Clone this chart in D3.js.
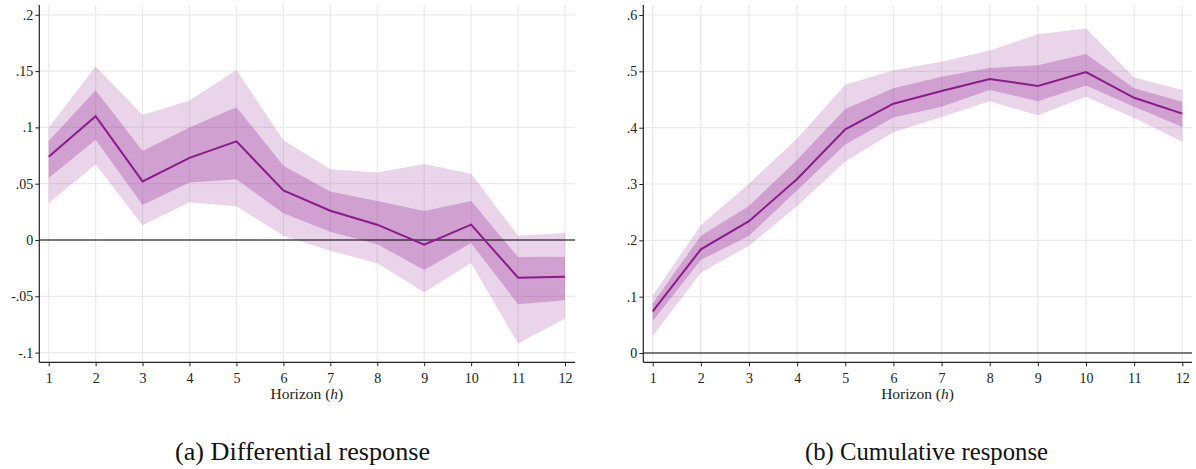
<!DOCTYPE html>
<html><head><meta charset="utf-8">
<script src="https://cdn.jsdelivr.net/npm/d3@7"></script>
<style>
body{margin:0;background:#fff;}
svg{display:block;}
</style></head>
<body>
<svg id="c" width="1196" height="469"></svg>
<script>
const horizons = [1,2,3,4,5,6,7,8,9,10,11,12];
// (a) Differential response
const diffEst   = [0.074,0.110,0.052,0.073,0.0876,0.044,0.026,0.0136,-0.0041,0.0136,-0.0335,-0.0326];
const diffInLo  = [0.055,0.089,0.031,0.051,0.054,0.0237,0.0074,-0.0038,-0.0266,-0.0027,-0.0571,-0.0536];
const diffInHi  = [0.088,0.133,0.079,0.100,0.118,0.066,0.043,0.0346,0.0258,0.0346,-0.0151,-0.0148];
const diffOutLo = [0.0326,0.067,0.013,0.0335,0.030,0.0038,-0.0095,-0.0207,-0.0465,-0.0204,-0.092,-0.070];
const diffOutHi = [0.0997,0.154,0.111,0.124,0.151,0.0885,0.0628,0.060,0.0675,0.0589,0.0038,0.0062];
const diffTicks = [-0.1,-0.05,0,0.05,0.1,0.15,0.2];
const diffTickLabels = ["-.1","-.05","0",".05",".1",".15",".2"];
// (b) Cumulative response
const cumEst   = [0.074,0.184,0.234,0.309,0.397,0.4426,0.465,0.4864,0.474,0.4988,0.453,0.425];
const cumInLo  = [0.057,0.165,0.208,0.289,0.370,0.418,0.437,0.467,0.447,0.475,0.437,0.401];
const cumInHi  = [0.088,0.208,0.261,0.343,0.433,0.470,0.4905,0.506,0.511,0.531,0.470,0.446];
const cumOutLo = [0.030,0.1426,0.1905,0.261,0.340,0.392,0.419,0.447,0.422,0.455,0.417,0.375];
const cumOutHi = [0.102,0.227,0.3006,0.381,0.476,0.502,0.517,0.537,0.566,0.576,0.489,0.467];
const cumTicks = [0,0.1,0.2,0.3,0.4,0.5,0.6];
const cumTickLabels = ["0",".1",".2",".3",".4",".5",".6"];
const xLabel = "Horizon";
const captions = ["(a) Differential response","(b) Cumulative response"];

const svg = d3.select("#c");
const purple = "#8b1a8b";
const serif = '"Liberation Serif", "Times New Roman", serif';

function panel(cfg){
  const g = svg.append("g");
  const x = d3.scaleLinear().domain([1,12]).range(cfg.xr);
  const y = d3.scaleLinear().domain(cfg.yd).range([cfg.y0, cfg.y1]);
  const left = cfg.axL, right = cfg.axR, top = 5, bottom = 362.3;
  // grid
  g.selectAll(".gy").data(cfg.ticks).enter().append("line")
    .attr("x1",left).attr("x2",right).attr("y1",d=>y(d)).attr("y2",d=>y(d))
    .attr("stroke","#eaeaea").attr("stroke-width",1.2);
  g.selectAll(".gx").data(horizons).enter().append("line")
    .attr("x1",d=>x(d)).attr("x2",d=>x(d)).attr("y1",top).attr("y2",bottom)
    .attr("stroke","#eaeaea").attr("stroke-width",1.2);
  const idx = d3.range(horizons.length);
  const band = (lo,hi)=>d3.area().x(i=>x(horizons[i])).y0(i=>y(lo[i])).y1(i=>y(hi[i]));
  g.append("path").datum(idx).attr("d",band(cfg.outLo,cfg.outHi)).attr("fill",purple).attr("fill-opacity",0.19);
  g.append("path").datum(idx).attr("d",band(cfg.inLo,cfg.inHi)).attr("fill",purple).attr("fill-opacity",0.27);
  // zero line
  g.append("line").attr("x1",left).attr("x2",right).attr("y1",y(0)).attr("y2",y(0))
    .attr("stroke","#000").attr("stroke-width",1);
  g.append("path").datum(idx)
    .attr("d",d3.line().x(i=>x(horizons[i])).y(i=>y(cfg.est[i])))
    .attr("fill","none").attr("stroke",purple).attr("stroke-width",2);
  // axes
  const ya = g.append("g").attr("transform",`translate(${left},0)`)
    .call(d3.axisLeft(y).tickValues(cfg.ticks).tickFormat((d,i)=>cfg.labels[i]).tickSize(4).tickSizeOuter(0));
  ya.select(".domain").attr("d",`M0,${top}V${bottom}`).attr("stroke","#222").attr("stroke-width",1.2);
  ya.selectAll("text").attr("x",-6).attr("fill","#222")
    .style("font-family",serif).style("font-size","14px");
  ya.selectAll(".tick line").attr("stroke","#222");
  const xa = g.append("g").attr("transform",`translate(0,${bottom})`)
    .call(d3.axisBottom(x).tickValues(horizons).tickSize(4).tickSizeOuter(0));
  xa.select(".domain").attr("d",`M${left},0H${right}`).attr("stroke","#222").attr("stroke-width",1.2);
  xa.selectAll("text").attr("y",11).attr("fill","#222")
    .style("font-family",serif).style("font-size","14px");
  xa.selectAll(".tick line").attr("stroke","#222");
  const t = g.append("text").attr("x",cfg.xr[0] + (cfg.xr[1]-cfg.xr[0])/2).attr("y",399).attr("text-anchor","middle")
    .attr("fill","#222").style("font-family",serif).style("font-size","15.5px");
  t.append("tspan").text(xLabel+" (");
  t.append("tspan").style("font-style","italic").text("h");
  t.append("tspan").text(")");
  g.append("text").attr("x",cfg.capX).attr("y",460).attr("text-anchor","middle")
    .attr("fill","#111").style("font-family",serif).style("font-size","26px")
    .attr("textLength",cfg.capW).attr("lengthAdjust","spacingAndGlyphs").text(cfg.caption);
}

panel({xr:[48.7,565], axL:39.3, axR:575, yd:[0,0.2], y0:240, y1:240-0.2*1126,
  ticks:diffTicks, labels:diffTickLabels, est:diffEst, inLo:diffInLo, inHi:diffInHi,
  outLo:diffOutLo, outHi:diffOutHi, caption:captions[0], capX:302.5, capW:255});
panel({xr:[652.7,1182.3], axL:643.3, axR:1192, yd:[0,0.6], y0:353, y1:353-0.6*563.3,
  ticks:cumTicks, labels:cumTickLabels, est:cumEst, inLo:cumInLo, inHi:cumInHi,
  outLo:cumOutLo, outHi:cumOutHi, caption:captions[1], capX:926.5, capW:243});
</script>
</body></html>
